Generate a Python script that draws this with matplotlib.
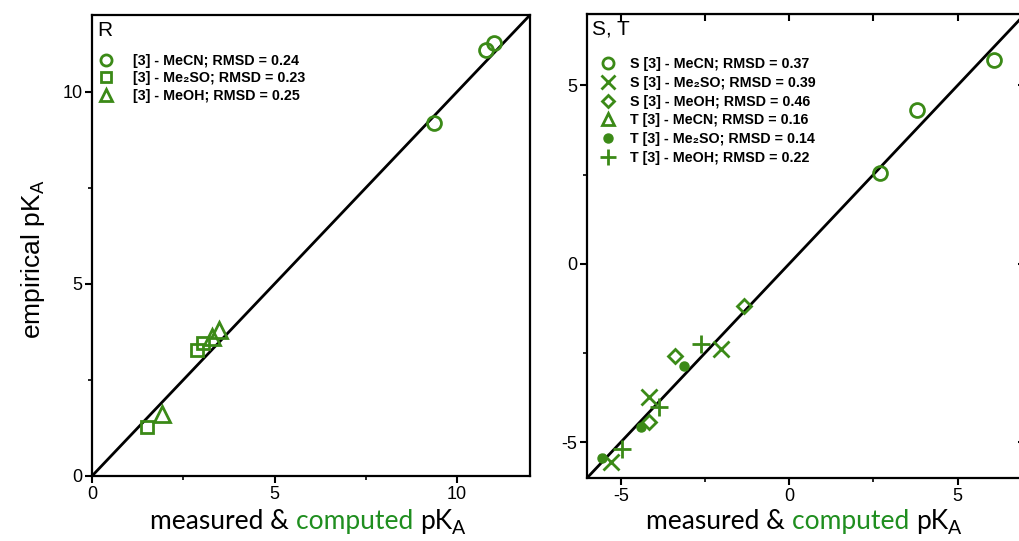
import numpy as np
import matplotlib
matplotlib.use("Agg")
import matplotlib.pyplot as plt
from matplotlib.ticker import MultipleLocator
from matplotlib.lines import Line2D

plt.rcParams['font.family'] = ['Liberation Sans', 'DejaVu Sans']
plt.rcParams['axes.unicode_minus'] = False

# panel R
r_mecn_x = [9.37, 10.79, 11.01]
r_mecn_y = [9.19, 11.09, 11.27]
r_dmso_x = [1.51, 2.88, 3.04]
r_dmso_y = [1.27, 3.27, 3.45]
r_meoh_x = [1.92, 3.29, 3.48]
r_meoh_y = [1.61, 3.61, 3.79]
r_labels = ["[3] - MeCN; RMSD = 0.24",
            "[3] - Me\u2082SO; RMSD = 0.23",
            "[3] - MeOH; RMSD = 0.25"]

# panel S, T
s_mecn_x = [2.71, 3.78, 6.07]
s_mecn_y = [2.54, 4.31, 5.72]
s_dmso_x = [-5.30, -4.17, -2.02]
s_dmso_y = [-5.55, -3.72, -2.39]
s_meoh_x = [-4.17, -3.39, -1.34]
s_meoh_y = [-4.42, -2.59, -1.18]
t_mecn_x = []
t_mecn_y = []
t_dmso_x = [-5.55, -4.40, -3.13]
t_dmso_y = [-5.45, -4.56, -2.87]
t_meoh_x = [-4.97, -3.87, -2.62]
t_meoh_y = [-5.20, -4.00, -2.25]
st_labels = ["S [3] - MeCN; RMSD = 0.37",
             "S [3] - Me\u2082SO; RMSD = 0.39",
             "S [3] - MeOH; RMSD = 0.46",
             "T [3] - MeCN; RMSD = 0.16",
             "T [3] - Me\u2082SO; RMSD = 0.14",
             "T [3] - MeOH; RMSD = 0.22"]

green = '#3b8a17'
green_txt = '#1f8e1f'
W, H = 1019, 541

fig = plt.figure(figsize=(W / 100, H / 100), dpi=100)


def px_axes(l, t, r, b):
    return fig.add_axes([l / W, 1 - b / H, (r - l) / W, (b - t) / H])


def style(ax, lim_x, lim_y, major):
    ax.set_xlim(*lim_x)
    ax.set_ylim(*lim_y)
    ax.plot([max(lim_x[0], lim_y[0]), 20], [max(lim_x[0], lim_y[0]), 20], color='black', lw=2.0, zorder=1)
    for s in ax.spines.values():
        s.set_linewidth(1.6)
    ax.xaxis.set_major_locator(MultipleLocator(major))
    ax.yaxis.set_major_locator(MultipleLocator(major))
    ax.xaxis.set_minor_locator(MultipleLocator(major / 2))
    ax.yaxis.set_minor_locator(MultipleLocator(major / 2))
    ax.tick_params(which='major', direction='out', length=5, width=1.5, labelsize=13, pad=2)
    ax.tick_params(which='minor', direction='out', length=3, width=1.2)


mk = dict(color=green, mfc='none', mew=2.0, ls='none', zorder=3)
leg_font = {'weight': 'bold', 'size': 10.3}

# ---- left panel
ax1 = px_axes(92, 15, 530, 476)
style(ax1, (0, 12), (0, 12), 5)
ax1.plot(r_mecn_x, r_mecn_y, marker='o', ms=10, **mk)
ax1.plot(r_dmso_x, r_dmso_y, marker='s', ms=9, **mk)
ax1.plot(r_meoh_x, r_meoh_y, marker='^', ms=11, **mk)
ax1.text(0.012, 0.988, "R", transform=ax1.transAxes, fontsize=15, va='top', ha='left')
h1 = [Line2D([], [], marker='o', ms=8, **mk),
      Line2D([], [], marker='s', ms=7.5, **mk),
      Line2D([], [], marker='^', ms=9, **mk)]
ax1.legend(h1, r_labels, loc='upper left', bbox_to_anchor=(0.016, 0.916), frameon=False,
           borderpad=0, borderaxespad=0, handlelength=1.0, handletextpad=1.4,
           labelspacing=0.26, prop=leg_font)
ax1.set_ylabel("empirical pK$_\\mathregular{A}$", fontsize=19)
ax1.yaxis.set_label_coords(-0.102, 0.47)

# ---- right panel
ax2 = px_axes(587, 14, 1025, 478)
style(ax2, (-6, 7), (-6, 7), 5)
ax2.plot(s_mecn_x, s_mecn_y, marker='o', ms=10, **mk)
ax2.plot(s_dmso_x, s_dmso_y, marker='x', ms=12, **mk)
ax2.plot(s_meoh_x, s_meoh_y, marker='D', ms=7, **mk)
ax2.plot(t_mecn_x, t_mecn_y, marker='^', ms=10, **mk)
ax2.plot(t_dmso_x, t_dmso_y, marker='o', ms=6.5, color=green, ls='none', zorder=3)
ax2.plot(t_meoh_x, t_meoh_y, marker='+', ms=13, **mk)
ax2.text(0.012, 0.988, "S, T", transform=ax2.transAxes, fontsize=15, va='top', ha='left')
h2 = [Line2D([], [], marker='o', ms=8, **mk),
      Line2D([], [], marker='x', ms=10, **mk),
      Line2D([], [], marker='D', ms=6.5, **mk),
      Line2D([], [], marker='^', ms=9, **mk),
      Line2D([], [], marker='o', ms=6.5, color=green, ls='none'),
      Line2D([], [], marker='+', ms=11, **mk)]
ax2.legend(h2, st_labels, loc='upper left', bbox_to_anchor=(0.032, 0.907), frameon=False,
           borderpad=0, borderaxespad=0, handlelength=1.0, handletextpad=1.0,
           labelspacing=0.33, prop=leg_font)
top = ax2.secondary_xaxis('top')
top.xaxis.set_major_locator(MultipleLocator(2.5))
top.tick_params(direction='in', length=5, width=1.5, labeltop=False)
right = ax2.secondary_yaxis('right')
right.yaxis.set_major_locator(MultipleLocator(5))
right.tick_params(direction='in', length=5, width=1.5, labelright=False)


# x labels with green "computed"
def xlabel(cx):
    fam = ['Lato', 'DejaVu Sans']
    t0 = fig.text(cx / W, 1 - 529 / H, "measured & ", fontsize=19, family=fam, ha='left', va='baseline')
    t1 = plt.annotate("computed ", xycoords=t0, xy=(1, 0), va='bottom', fontsize=19, family=fam, color=green_txt)
    t2 = plt.annotate("pK", xycoords=t1, xy=(1, 0), va='bottom', fontsize=19, family=fam)
    plt.annotate("A", xycoords=t2, xy=(1, 0), xytext=(0, -2.5), textcoords='offset points',
                 va='bottom', fontsize=14, family=fam)


xlabel(150)
xlabel(646)

fig.savefig("out.png", dpi=100)
